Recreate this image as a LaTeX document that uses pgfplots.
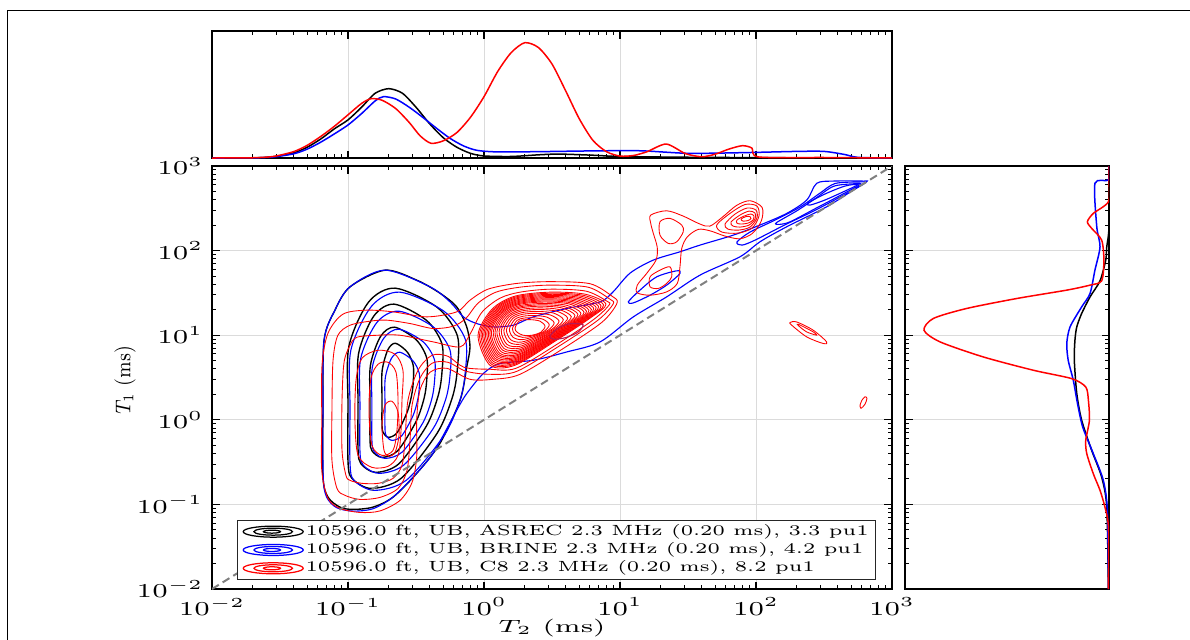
\documentclass[border=0pt]{standalone}
\usepackage{fix-cm}
\usepackage{graphicx}
\usepackage{pgfplots}
\pgfplotsset{compat=1.18}
\definecolor{dkr}{RGB}{180,25,85}
\newcommand{\hs}[1]{\scalebox{1.38}[1]{#1}}
\newcommand{\ls}[1]{\scalebox{1.37}[1]{#1}}
\pgfplotsset{
  lminx/.style={minor xtick={-1.699,-1.523,-1.398,-1.301,-1.222,-1.155,-1.097,-1.046,-0.699,-0.523,-0.398,-0.301,-0.222,-0.155,-0.097,-0.046,0.301,0.477,0.602,0.699,0.778,0.845,0.903,0.954,1.301,1.477,1.602,1.699,1.778,1.845,1.903,1.954,2.301,2.477,2.602,2.699,2.778,2.845,2.903,2.954}},
  lminy/.style={minor ytick={-1.699,-1.523,-1.398,-1.301,-1.222,-1.155,-1.097,-1.046,-0.699,-0.523,-0.398,-0.301,-0.222,-0.155,-0.097,-0.046,0.301,0.477,0.602,0.699,0.778,0.845,0.903,0.954,1.301,1.477,1.602,1.699,1.778,1.845,1.903,1.954,2.301,2.477,2.602,2.699,2.778,2.845,2.903,2.954}},
  ellleg/.style={legend image code/.code={%
    \draw[##1] (12pt,0pt) ellipse [x radius=12pt, y radius=2.2pt];
    \draw[##1] (12pt,0pt) ellipse [x radius=7.7pt, y radius=1.4pt];
    \draw[##1] (11.5pt,0pt) ellipse [x radius=3.4pt, y radius=0.6pt];}},
  cb/.style={black, line width=0.55pt, smooth cycle, forget plot},
  cu/.style={blue, line width=0.45pt, smooth cycle, forget plot},
  cr/.style={red, line width=0.35pt, smooth cycle, forget plot},
  marg/.style={line width=0.6pt, smooth, tension=0.45},
  myframe/.style={scale only axis, anchor=south west, tick align=inside,
    major tick length=3pt, minor tick length=1.5pt,
    major tick style={black, line width=0.5pt}, minor tick style={black, line width=0.4pt},
    major grid style={black!14, line width=0.35pt}},
}
\begin{document}
\begin{tikzpicture}
\useasboundingbox (0,0) rectangle (476pt,255.6pt);
\draw[line width=0.6pt] (2.9pt,-2pt) -- (2.9pt,251.5pt) -- (478pt,251.5pt);

% ---------------- main T1-T2 map ----------------
\begin{axis}[myframe, lminx, lminy,
  at={(84.8pt,20pt)}, width=272pt, height=169.2pt,
  xmin=-2, xmax=3, ymin=-2, ymax=3,
  xtick={-2,-1,0,1,2,3}, ytick={-2,-1,0,1,2,3},
  xticklabels={\hs{$10^{-2}$},\hs{$10^{-1}$},\hs{$10^{0}$},\hs{$10^{1}$},\hs{$10^{2}$},\hs{$10^{3}$}},
  yticklabels={\hs{$10^{-2}$},\hs{$10^{-1}$},\hs{$10^{0}$},\hs{$10^{1}$},\hs{$10^{2}$},\hs{$10^{3}$}},
  grid=major,
  axis line style={line width=0.8pt},
  ticklabel style={font=\fontsize{7.9}{8.5}\selectfont},
  xlabel={\scalebox{1.55}[1]{$T_2$ (ms)}}, ylabel={\scalebox{1}[1.2]{$T_1$ (ms)}},
  label style={font=\fontsize{7.1}{8}\selectfont},
  xlabel style={at={(axis description cs:0.5,-0.092)}, anchor=center},
  ylabel style={at={(axis description cs:-0.128,0.494)}, anchor=center},
  legend cell align=left,
  legend style={at={(0.0368,0.0213)}, anchor=south west, font=\fontsize{5.9}{7}\selectfont,
    draw=black!85, line width=0.45pt, fill=white, inner xsep=2pt, inner ysep=0.8pt,
    nodes={inner sep=0.7pt}},
]
% ---- ASREC (black)
\addplot[cb] coordinates {(-1.184,-0.677) (-1.184,0.112) (-1.176,0.941) (-1.096,1.296) (-0.985,1.572) (-0.728,1.769) (-0.495,1.651) (-0.324,1.497) (-0.201,1.335) (-0.127,1.098) (-0.103,0.862) (-0.127,0.625) (-0.176,0.231) (-0.324,-0.278) (-0.495,-0.633) (-0.669,-0.914) (-0.816,-1.032) (-0.963,-1.059) (-1.059,-1.032) (-1.147,-0.914)};
\addplot[cb] coordinates {(-1.0,-0.491) (-1.0,0.169) (-0.994,0.863) (-0.849,1.391) (-0.652,1.556) (-0.344,1.329) (-0.196,0.995) (-0.196,0.598) (-0.232,0.269) (-0.344,-0.157) (-0.608,-0.690) (-0.832,-0.811) (-0.972,-0.690)};
\addplot[cb] coordinates {(-0.926,-0.353) (-0.926,0.202) (-0.922,0.785) (-0.810,1.227) (-0.660,1.367) (-0.423,1.176) (-0.309,0.896) (-0.309,0.562) (-0.337,0.285) (-0.423,-0.072) (-0.626,-0.520) (-0.798,-0.621) (-0.905,-0.520)};
\addplot[cb] coordinates {(-0.838,-0.236) (-0.838,0.193) (-0.835,0.644) (-0.760,0.987) (-0.658,1.095) (-0.499,0.947) (-0.421,0.730) (-0.421,0.472) (-0.440,0.258) (-0.499,-0.019) (-0.635,-0.366) (-0.751,-0.444) (-0.824,-0.366)};
\addplot[cb] coordinates {(-0.750,-0.057) (-0.750,0.253) (-0.749,0.580) (-0.707,0.827) (-0.651,0.905) (-0.563,0.799) (-0.520,0.641) (-0.520,0.454) (-0.531,0.301) (-0.563,0.099) (-0.638,-0.150) (-0.702,-0.207) (-0.742,-0.150)};
% ---- BRINE (blue)
\addplot[cu] coordinates {(-1.182,-0.677) (-1.184,0.112) (-1.176,0.941) (-1.096,1.296) (-0.985,1.572) (-0.728,1.769) (-0.397,1.572) (-0.250,1.394) (-0.152,1.217) (-0.054,1.138) (0.068,1.098) (0.215,1.118) (0.363,1.217) (0.608,1.316) (0.853,1.394) (0.949,1.512) (1.074,1.734) (1.245,1.888) (1.441,1.986) (1.588,2.065) (1.833,2.183) (2.029,2.302) (2.226,2.440) (2.373,2.598) (2.446,2.795) (2.568,2.822) (2.789,2.822) (2.814,2.814) (2.715,2.716) (2.520,2.518) (2.226,2.282) (2.029,2.104) (1.882,1.927) (1.588,1.710) (1.343,1.453) (1.098,1.217) (0.853,0.920) (0.608,0.802) (0.363,0.704) (0.118,0.665) (-0.005,0.547) (-0.127,0.310) (-0.201,0.112) (-0.375,-0.396) (-0.522,-0.677) (-0.669,-0.914) (-0.816,-1.051) (-0.963,-1.079) (-1.083,-1.039) (-1.157,-0.914)};
\addplot[cu] coordinates {(-0.985,-0.518) (-0.985,0.136) (-0.979,0.822) (-0.826,1.344) (-0.619,1.509) (-0.295,1.284) (-0.138,0.954) (-0.138,0.560) (-0.176,0.234) (-0.295,-0.188) (-0.572,-0.715) (-0.808,-0.834) (-0.956,-0.715)};
\addplot[cu] coordinates {(-0.912,-0.374) (-0.912,0.161) (-0.907,0.722) (-0.788,1.150) (-0.626,1.284) (-0.374,1.099) (-0.251,0.830) (-0.251,0.508) (-0.282,0.241) (-0.374,-0.104) (-0.590,-0.535) (-0.774,-0.633) (-0.889,-0.535)};
\addplot[cu] coordinates {(-0.824,-0.250) (-0.824,0.176) (-0.821,0.624) (-0.737,0.964) (-0.625,1.071) (-0.449,0.924) (-0.364,0.709) (-0.364,0.453) (-0.385,0.240) (-0.449,-0.034) (-0.599,-0.378) (-0.727,-0.456) (-0.807,-0.378)};
\addplot[cu] coordinates {(-0.728,-0.102) (-0.728,0.188) (-0.726,0.493) (-0.681,0.725) (-0.619,0.799) (-0.523,0.699) (-0.476,0.551) (-0.476,0.378) (-0.488,0.232) (-0.523,0.045) (-0.605,-0.189) (-0.676,-0.243) (-0.719,-0.189)};
\addplot[cu] coordinates {(1.860,2.101) (1.956,2.219) (2.140,2.361) (2.324,2.515) (2.471,2.680) (2.581,2.793) (2.750,2.811) (2.801,2.799) (2.654,2.665) (2.434,2.476) (2.213,2.305) (1.993,2.124) (1.897,2.065)};
\addplot[cu] coordinates {(2.150,2.330) (2.300,2.470) (2.440,2.620) (2.570,2.760) (2.720,2.790) (2.770,2.785) (2.640,2.670) (2.440,2.500) (2.250,2.340) (2.170,2.310)};
\addplot[cu] coordinates {(2.382,2.562) (2.507,2.669) (2.654,2.763) (2.750,2.781) (2.654,2.704) (2.507,2.598) (2.397,2.538)};
\addplot[cu] coordinates {(1.061,1.394) (1.147,1.533) (1.270,1.690) (1.417,1.761) (1.441,1.730) (1.343,1.592) (1.221,1.473) (1.098,1.382)};
% ---- C8 (red)
\addplot[cr] coordinates {(-1.147,-0.929) (-1.193,-0.598) (-1.193,-0.006) (-1.191,0.645) (-1.147,1.024) (-1.037,1.249) (-0.863,1.296) (-0.667,1.276) (-0.421,1.217) (-0.201,1.276) (-0.103,1.414) (0.029,1.544) (0.240,1.612) (0.485,1.633) (0.779,1.609) (0.941,1.462) (0.978,1.379) (0.868,1.154) (0.574,0.834) (0.265,0.538) (0.068,0.479) (-0.103,0.479) (-0.274,0.609) (-0.397,0.562) (-0.471,0.349) (-0.495,-0.006) (-0.495,-0.440) (-0.529,-0.740) (-0.618,-0.953) (-0.765,-1.077) (-0.912,-1.095) (-1.059,-1.047)};
\addplot[cr] coordinates {(-1.081,-0.811) (-1.118,-0.479) (-1.118,0.112) (-1.110,0.704) (-1.074,1.000) (-0.985,1.118) (-0.838,1.166) (-0.715,1.178) (-0.544,1.138) (-0.373,1.079) (-0.226,1.107) (-0.132,1.201) (-0.044,1.379) (0.088,1.509) (0.265,1.568) (0.485,1.592) (0.765,1.568) (0.926,1.426) (0.949,1.367) (0.838,1.178) (0.551,0.870) (0.243,0.574) (0.044,0.538) (-0.132,0.574) (-0.265,0.680) (-0.382,0.669) (-0.471,0.491) (-0.529,0.172) (-0.544,-0.243) (-0.566,-0.598) (-0.632,-0.811) (-0.765,-0.917) (-0.912,-0.941) (-1.022,-0.893)};
\addplot[cr] coordinates {(-1.015,-0.657) (-1.044,-0.361) (-1.044,0.231) (-1.029,0.680) (-0.985,0.882) (-0.934,0.976) (-0.779,1.000) (-0.618,1.000) (-0.373,0.921) (-0.176,0.862) (-0.103,1.012) (-0.015,1.272) (0.118,1.438) (0.265,1.509) (0.485,1.544) (0.750,1.521) (0.904,1.402) (0.919,1.355) (0.809,1.189) (0.537,0.893) (0.235,0.609) (0.037,0.598) (-0.147,0.621) (-0.265,0.751) (-0.382,0.763) (-0.485,0.586) (-0.559,0.231) (-0.581,-0.243) (-0.603,-0.538) (-0.669,-0.692) (-0.779,-0.751) (-0.897,-0.751) (-0.985,-0.716)};
\addplot[cr] coordinates {(-0.926,-0.420) (-0.949,-0.006) (-0.941,0.467) (-0.897,0.728) (-0.779,0.822) (-0.654,0.775) (-0.596,0.586) (-0.603,0.231) (-0.610,-0.124) (-0.632,-0.420) (-0.706,-0.550) (-0.824,-0.562)};
\addplot[cr] coordinates {(-0.824,-0.302) (-0.846,0.112) (-0.831,0.491) (-0.779,0.657) (-0.706,0.680) (-0.647,0.562) (-0.632,0.231) (-0.640,-0.124) (-0.669,-0.361) (-0.750,-0.420)};
\addplot[cr] coordinates {(-0.735,-0.361) (-0.750,-0.065) (-0.728,0.172) (-0.676,0.219) (-0.632,0.089) (-0.625,-0.183) (-0.654,-0.385) (-0.699,-0.432)};
% oil peak stack
\addplot[cr] coordinates {(-0.044,1.000) (0.059,1.308) (0.228,1.462) (0.485,1.509) (0.743,1.485) (0.897,1.367) (0.779,1.201) (0.522,0.929) (0.228,0.645) (0.044,0.645)};
\addplot[cr] coordinates {(-0.033,1.003) (0.067,1.302) (0.231,1.451) (0.480,1.496) (0.730,1.472) (0.879,1.357) (0.765,1.194) (0.515,0.932) (0.230,0.659) (0.052,0.661)};
\addplot[cr] coordinates {(-0.022,1.007) (0.075,1.297) (0.234,1.440) (0.474,1.483) (0.716,1.460) (0.861,1.346) (0.750,1.188) (0.509,0.935) (0.233,0.673) (0.060,0.676)};
\addplot[cr] coordinates {(-0.011,1.010) (0.083,1.291) (0.237,1.429) (0.469,1.470) (0.703,1.447) (0.843,1.336) (0.736,1.181) (0.502,0.938) (0.235,0.688) (0.068,0.692)};
\addplot[cr] coordinates {(-0.001,1.013) (0.091,1.285) (0.240,1.417) (0.464,1.457) (0.690,1.434) (0.825,1.325) (0.721,1.175) (0.495,0.940) (0.237,0.702) (0.076,0.708)};
\addplot[cr] coordinates {(0.010,1.017) (0.099,1.280) (0.243,1.406) (0.459,1.444) (0.677,1.421) (0.807,1.315) (0.707,1.168) (0.488,0.943) (0.240,0.716) (0.084,0.723)};
\addplot[cr] coordinates {(0.021,1.020) (0.107,1.274) (0.246,1.395) (0.453,1.431) (0.664,1.408) (0.790,1.305) (0.693,1.161) (0.481,0.946) (0.242,0.730) (0.092,0.739)};
\addplot[cr] coordinates {(0.032,1.023) (0.114,1.268) (0.248,1.384) (0.448,1.418) (0.650,1.396) (0.772,1.294) (0.678,1.155) (0.475,0.949) (0.245,0.744) (0.100,0.755)};
\addplot[cr] coordinates {(0.043,1.027) (0.122,1.263) (0.251,1.373) (0.443,1.405) (0.637,1.383) (0.754,1.284) (0.664,1.148) (0.468,0.952) (0.247,0.759) (0.108,0.770)};
\addplot[cr] coordinates {(0.054,1.030) (0.130,1.257) (0.254,1.362) (0.438,1.392) (0.624,1.370) (0.736,1.273) (0.649,1.142) (0.461,0.955) (0.249,0.773) (0.116,0.786)};
\addplot[cr] coordinates {(0.068,1.034) (0.140,1.250) (0.258,1.348) (0.431,1.375) (0.607,1.354) (0.713,1.260) (0.631,1.133) (0.453,0.958) (0.252,0.791) (0.126,0.805)};
\addplot[cr] coordinates {(0.081,1.038) (0.150,1.243) (0.262,1.334) (0.424,1.359) (0.591,1.338) (0.691,1.247) (0.613,1.125) (0.444,0.962) (0.255,0.808) (0.136,0.825)};
\addplot[cr] coordinates {(0.095,1.042) (0.160,1.236) (0.265,1.320) (0.418,1.343) (0.574,1.322) (0.669,1.234) (0.595,1.117) (0.436,0.965) (0.258,0.826) (0.146,0.844)};
\addplot[cr] coordinates {(0.111,1.047) (0.172,1.227) (0.270,1.303) (0.410,1.323) (0.554,1.303) (0.642,1.219) (0.574,1.107) (0.426,0.970) (0.262,0.847) (0.157,0.868)};
\addplot[cr] coordinates {(0.127,1.052) (0.184,1.219) (0.274,1.286) (0.402,1.304) (0.535,1.284) (0.615,1.203) (0.552,1.097) (0.416,0.974) (0.265,0.869) (0.169,0.891)};
\addplot[cr] coordinates {(0.146,1.058) (0.198,1.209) (0.279,1.267) (0.393,1.281) (0.511,1.262) (0.583,1.185) (0.527,1.086) (0.404,0.979) (0.269,0.894) (0.183,0.919)};
\addplot[cr] coordinates {(0.165,1.064) (0.212,1.199) (0.284,1.247) (0.383,1.258) (0.488,1.239) (0.552,1.167) (0.502,1.074) (0.392,0.984) (0.273,0.918) (0.197,0.946)};
\addplot[cr] coordinates {(0.187,1.071) (0.227,1.187) (0.290,1.225) (0.373,1.232) (0.462,1.214) (0.516,1.146) (0.473,1.061) (0.378,0.989) (0.278,0.947) (0.213,0.977)};
\addplot[cr] coordinates {(0.209,1.077) (0.243,1.176) (0.296,1.203) (0.362,1.206) (0.435,1.188) (0.480,1.125) (0.444,1.048) (0.365,0.995) (0.283,0.975) (0.229,1.009)};
\addplot[cr] coordinates {(0.228,1.083) (0.257,1.166) (0.301,1.183) (0.353,1.183) (0.412,1.166) (0.449,1.107) (0.419,1.036) (0.353,1.000) (0.287,1.000) (0.243,1.036)};
\addplot[cr, dkr, line width=0.45pt] coordinates {(0.485,0.988) (0.544,1.083) (0.632,1.136) (0.728,1.124) (0.691,1.036) (0.596,0.970) (0.515,0.953)};
% upper right red features
\addplot[cr] coordinates {(1.226,2.420) (1.343,2.471) (1.465,2.408) (1.588,2.314) (1.662,2.290) (1.760,2.405) (1.858,2.535) (1.956,2.590) (2.045,2.510) (2.040,2.355) (1.975,2.205) (1.882,2.140) (1.772,2.172) (1.662,2.234) (1.576,2.251) (1.495,2.163) (1.454,2.026) (1.441,1.808) (1.421,1.612) (1.343,1.512) (1.221,1.473) (1.127,1.501) (1.127,1.592) (1.196,1.730) (1.265,1.888) (1.274,2.038) (1.245,2.204) (1.226,2.322)};
\addplot[cr] coordinates {(1.294,2.341) (1.368,2.381) (1.454,2.302) (1.465,2.222) (1.417,2.104) (1.355,2.085) (1.294,2.183)};
\addplot[cr] coordinates {(1.221,1.690) (1.294,1.769) (1.368,1.808) (1.380,1.690) (1.343,1.612) (1.282,1.553) (1.221,1.572)};
\addplot[cr] coordinates {(1.711,2.302) (1.809,2.440) (1.919,2.545) (2.007,2.527) (2.022,2.408) (1.971,2.266) (1.868,2.207) (1.750,2.219)};
\addplot[cr] coordinates {(1.772,2.314) (1.846,2.432) (1.934,2.503) (2.000,2.479) (2.007,2.385) (1.956,2.278) (1.875,2.243) (1.794,2.254)};
\addplot[cr] coordinates {(1.816,2.337) (1.882,2.420) (1.949,2.467) (1.993,2.444) (1.993,2.373) (1.949,2.302) (1.882,2.278) (1.831,2.290)};
\addplot[cr] coordinates {(1.860,2.361) (1.912,2.408) (1.963,2.432) (1.985,2.408) (1.978,2.361) (1.941,2.325) (1.890,2.314) (1.860,2.325)};
\addplot[cr] coordinates {(1.890,2.373) (1.926,2.402) (1.956,2.402) (1.963,2.379) (1.941,2.355) (1.904,2.349)};
\addplot[cr] coordinates {(2.250,1.150) (2.299,1.157) (2.421,1.059) (2.520,0.921) (2.495,0.902) (2.373,0.980) (2.263,1.118)};
\addplot[cr] coordinates {(2.311,1.130) (2.421,1.039) (2.446,1.000) (2.373,1.039) (2.314,1.110)};
\addplot[cr] coordinates {(2.779,0.231) (2.801,0.272) (2.816,0.254) (2.801,0.183) (2.772,0.136) (2.765,0.172)};
% T1 = T2
\addplot[forget plot, black!50, line width=0.8pt, dash pattern=on 3.2pt off 1.8pt] coordinates {(-2,-2) (3,3)};
% legend
\addlegendimage{ellleg, black, line width=0.5pt}
\addlegendentry{\ls{10596.0 ft, UB, ASREC 2.3 MHz (0.20 ms), 3.3 pu1}}
\addlegendimage{ellleg, blue, line width=0.5pt}
\addlegendentry{\ls{10596.0 ft, UB, BRINE 2.3 MHz (0.20 ms), 4.2 pu1}}
\addlegendimage{ellleg, red, line width=0.5pt}
\addlegendentry{\ls{10596.0 ft, UB, C8 2.3 MHz (0.20 ms), 8.2 pu1}}
\end{axis}

% ---------------- top marginal: T2 distribution ----------------
\begin{axis}[myframe, lminx,
  at={(84.8pt,192.4pt)}, width=272pt, height=50.8pt,
  xmin=-2, xmax=3, ymin=0, ymax=1,
  xtick={-2,-1,0,1,2,3}, xticklabels={}, ytick=\empty,
  xmajorgrids, axis line style={line width=0.5pt},
]
\addplot[marg, black] coordinates {(-2,0) (-1.7,0.001) (-1.55,0.01) (-1.4,0.04) (-1.3,0.085) (-1.2,0.15) (-1.1,0.23) (-1.0,0.30) (-0.9,0.40) (-0.8,0.51) (-0.7,0.546) (-0.6,0.51) (-0.5,0.40) (-0.4,0.27) (-0.3,0.16) (-0.2,0.085) (-0.1,0.037) (0,0.016) (0.2,0.012) (0.4,0.025) (0.55,0.031) (0.8,0.022) (1.0,0.012) (1.5,0.006) (2.0,0.003) (2.5,0.001) (3,0)};
\addplot[marg, blue] coordinates {(-2,0) (-1.7,0.001) (-1.55,0.008) (-1.4,0.033) (-1.3,0.07) (-1.2,0.125) (-1.1,0.19) (-1.0,0.26) (-0.9,0.35) (-0.8,0.45) (-0.74,0.483) (-0.65,0.465) (-0.55,0.40) (-0.45,0.32) (-0.35,0.235) (-0.25,0.155) (-0.15,0.095) (-0.05,0.06) (0.1,0.048) (0.4,0.05) (0.8,0.056) (1.15,0.057) (1.5,0.037) (1.9,0.042) (2.3,0.052) (2.5,0.052) (2.65,0.028) (2.75,0.005) (3,0)};
\addplot[marg, red] coordinates {(-2,0) (-1.7,0.002) (-1.55,0.012) (-1.4,0.05) (-1.3,0.1) (-1.2,0.17) (-1.1,0.25) (-1.0,0.34) (-0.9,0.43) (-0.83,0.467) (-0.75,0.455) (-0.65,0.39) (-0.55,0.28) (-0.47,0.175) (-0.39,0.116) (-0.3,0.135) (-0.2,0.2) (-0.1,0.32) (0,0.483) (0.1,0.68) (0.2,0.83) (0.3,0.908) (0.4,0.87) (0.5,0.74) (0.6,0.53) (0.7,0.31) (0.8,0.14) (0.9,0.05) (1.0,0.015) (1.1,0.02) (1.2,0.05) (1.34,0.11) (1.48,0.035) (1.6,0.01) (1.7,0.03) (1.8,0.07) (1.9,0.097) (1.97,0.078) (2.02,0.008) (2.5,0.004) (3,0)};
\end{axis}

% ---------------- right marginal: T1 distribution ----------------
\begin{axis}[myframe, lminy,
  at={(362pt,20pt)}, width=81.6pt, height=169.2pt,
  xmin=0, xmax=1, x dir=reverse, ymin=-2, ymax=3,
  ytick={-2,-1,0,1,2,3}, yticklabels={}, xtick=\empty,
  ymajorgrids, axis line style={line width=0.5pt},
]
\addplot[marg, black] coordinates {(0.003,-2) (0.011,-1.032) (0.036,-0.677) (0.085,-0.361) (0.134,-0.006) (0.158,0.310) (0.170,0.704) (0.167,0.941) (0.158,1.098) (0.134,1.257) (0.093,1.453) (0.044,1.643) (0.016,1.888) (0.011,2.045) (0,2.282) (0,3)};
\addplot[marg, blue] coordinates {(0.003,-2) (0.008,-1.071) (0.028,-0.716) (0.077,-0.400) (0.129,-0.085) (0.155,0.2) (0.175,0.467) (0.2,0.704) (0.207,0.902) (0.191,1.098) (0.134,1.335) (0.093,1.493) (0.069,1.769) (0.044,2.045) (0.06,2.282) (0.069,2.795) (0.003,2.834) (0,3)};
\addplot[marg, red] coordinates {(0.003,-2) (0.003,-1.268) (0.02,-1.032) (0.044,-0.834) (0.077,-0.637) (0.109,-0.400) (0.114,-0.243) (0.096,-0.006) (0.101,0.231) (0.114,0.388) (0.183,0.487) (0.371,0.586) (0.616,0.743) (0.828,0.921) (0.907,1.059) (0.861,1.198) (0.698,1.316) (0.452,1.434) (0.207,1.533) (0.093,1.592) (0.036,1.643) (0.025,1.888) (0.036,2.124) (0.085,2.263) (0.106,2.341) (0.077,2.440) (0.003,2.578) (0,2.834) (0,3)};
\end{axis}
\end{tikzpicture}
\end{document}
